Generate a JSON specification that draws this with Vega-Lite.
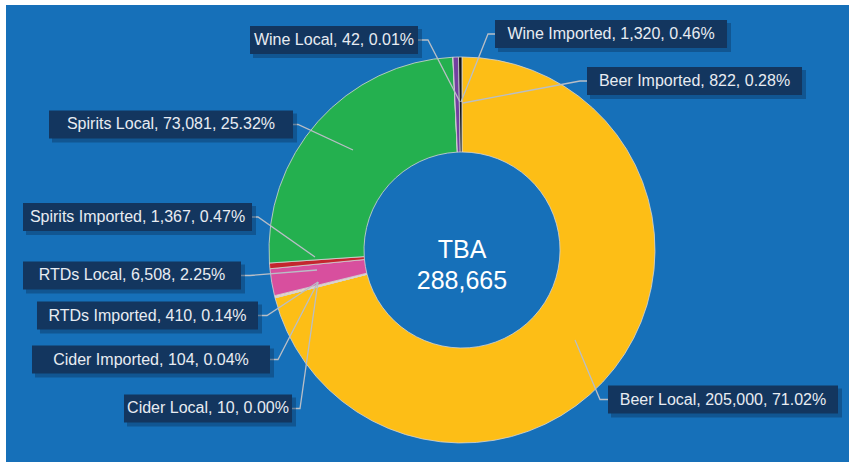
{
  "$schema": "https://vega.github.io/schema/vega-lite/v6.json",
  "width": 849,
  "height": 462,
  "autosize": {"type": "fit", "contains": "padding"},
  "padding": {"left": 6, "top": 5, "right": 0, "bottom": 0},
  "background": "#ffffff",
  "view": {"fill": "#1670B9", "stroke": null},
  "config": {"font": "Liberation Sans"},
  "datasets": {
    "slices": [
      {"category": "Beer Local", "value": 205000, "ord": 1},
      {"category": "Cider Local", "value": 10, "ord": 2},
      {"category": "Cider Imported", "value": 104, "ord": 3},
      {"category": "RTDs Imported", "value": 410, "ord": 4},
      {"category": "RTDs Local", "value": 6508, "ord": 5},
      {"category": "Spirits Imported", "value": 1367, "ord": 6},
      {"category": "Spirits Local", "value": 73081, "ord": 7},
      {"category": "Wine Local", "value": 42, "ord": 8},
      {"category": "Wine Imported", "value": 1320, "ord": 9},
      {"category": "Beer Imported", "value": 822, "ord": 10}
    ],
    "labels": [
      {"category": "Wine Local", "label": "Wine Local, 42, 0.01%", "bx1": -1.0984, "bx2": -0.228, "lx": -0.6632, "ly": 1.0881},
      {"category": "Wine Imported", "label": "Wine Imported, 1,320, 0.46%", "bx1": 0.171, "bx2": 1.3731, "lx": 0.772, "ly": 1.1192},
      {"category": "Beer Imported", "label": "Beer Imported, 822, 0.28%", "bx1": 0.6477, "bx2": 1.7617, "lx": 1.2047, "ly": 0.8756},
      {"category": "Spirits Local", "label": "Spirits Local, 73,081, 25.32%", "bx1": -2.1399, "bx2": -0.8756, "lx": -1.5078, "ly": 0.6503},
      {"category": "Spirits Imported", "label": "Spirits Imported, 1,367, 0.47%", "bx1": -2.2746, "bx2": -1.0881, "lx": -1.6813, "ly": 0.171},
      {"category": "RTDs Local", "label": "RTDs Local, 6,508, 2.25%", "bx1": -2.2746, "bx2": -1.1451, "lx": -1.7098, "ly": -0.1321},
      {"category": "RTDs Imported", "label": "RTDs Imported, 410, 0.14%", "bx1": -2.2021, "bx2": -1.057, "lx": -1.6295, "ly": -0.3394},
      {"category": "Cider Imported", "label": "Cider Imported, 104, 0.04%", "bx1": -2.228, "bx2": -0.9948, "lx": -1.6114, "ly": -0.5674},
      {"category": "Cider Local", "label": "Cider Local, 10, 0.00%", "bx1": -1.7513, "bx2": -0.8808, "lx": -1.316, "ly": -0.8212},
      {"category": "Beer Local", "label": "Beer Local, 205,000, 71.02%", "bx1": 0.7565, "bx2": 1.9482, "lx": 1.3523, "ly": -0.7746}
    ],
    "leaders": [
      {"category": "Wine Local", "seq": 1, "u": -0.228, "v": 1.0881},
      {"category": "Wine Local", "seq": 2, "u": -0.1762, "v": 1.0881},
      {"category": "Wine Local", "seq": 3, "u": -0.0104, "v": 0.7668},
      {"category": "Wine Imported", "seq": 1, "u": 0.171, "v": 1.1192},
      {"category": "Wine Imported", "seq": 2, "u": 0.1347, "v": 1.1192},
      {"category": "Wine Imported", "seq": 3, "u": -0.0052, "v": 0.7668},
      {"category": "Beer Imported", "seq": 1, "u": 0.6477, "v": 0.8756},
      {"category": "Beer Imported", "seq": 2, "u": 0.6114, "v": 0.8756},
      {"category": "Beer Imported", "seq": 3, "u": 0.0052, "v": 0.7617},
      {"category": "Spirits Local", "seq": 1, "u": -0.8756, "v": 0.6503},
      {"category": "Spirits Local", "seq": 2, "u": -0.8497, "v": 0.6503},
      {"category": "Spirits Local", "seq": 3, "u": -0.5648, "v": 0.5181},
      {"category": "Spirits Imported", "seq": 1, "u": -1.0881, "v": 0.171},
      {"category": "Spirits Imported", "seq": 2, "u": -1.057, "v": 0.171},
      {"category": "Spirits Imported", "seq": 3, "u": -0.7617, "v": -0.0363},
      {"category": "RTDs Local", "seq": 1, "u": -1.1451, "v": -0.1321},
      {"category": "RTDs Local", "seq": 2, "u": -1.0984, "v": -0.1321},
      {"category": "RTDs Local", "seq": 3, "u": -0.7513, "v": -0.1036},
      {"category": "RTDs Imported", "seq": 1, "u": -1.057, "v": -0.3394},
      {"category": "RTDs Imported", "seq": 2, "u": -1.0104, "v": -0.3394},
      {"category": "RTDs Imported", "seq": 3, "u": -0.7461, "v": -0.1658},
      {"category": "Cider Imported", "seq": 1, "u": -0.9948, "v": -0.5674},
      {"category": "Cider Imported", "seq": 2, "u": -0.9534, "v": -0.5674},
      {"category": "Cider Imported", "seq": 3, "u": -0.7461, "v": -0.1658},
      {"category": "Cider Local", "seq": 1, "u": -0.8808, "v": -0.8212},
      {"category": "Cider Local", "seq": 2, "u": -0.8394, "v": -0.8212},
      {"category": "Cider Local", "seq": 3, "u": -0.7461, "v": -0.1658},
      {"category": "Beer Local", "seq": 1, "u": 0.7565, "v": -0.7746},
      {"category": "Beer Local", "seq": 2, "u": 0.715, "v": -0.7746},
      {"category": "Beer Local", "seq": 3, "u": 0.5855, "v": -0.4663}
    ]
  },
  "layer": [
    {
      "data": {"name": "slices"},
      "mark": {"type": "arc", "innerRadius": 98, "outerRadius": 193, "stroke": "#d4d4d4", "strokeWidth": 0.8},
      "encoding": {
        "theta": {"field": "value", "type": "quantitative", "stack": true},
        "order": {"field": "ord", "type": "quantitative"},
        "color": {
          "field": "category", "type": "nominal", "legend": null,
          "scale": {
            "domain": ["Beer Local", "Cider Local", "Cider Imported", "RTDs Imported", "RTDs Local", "Spirits Imported", "Spirits Local", "Wine Local", "Wine Imported", "Beer Imported"],
            "range": ["#FDBE16", "#F26B21", "#F7A541", "#F6D7B8", "#D84F9E", "#C4262E", "#24B04F", "#9B59B6", "#7340A0", "#151515"]
          }
        },
        "x": {"datum": 0, "type": "quantitative", "scale": {"domain": [-2.3627, 2.0052], "nice": false, "zero": false}, "axis": null},
        "y": {"datum": 0, "type": "quantitative", "scale": {"domain": [-1.0984, 1.2694], "nice": false, "zero": false}, "axis": null}
      }
    },
    {
      "data": {"name": "leaders"},
      "mark": {"type": "line", "color": "#B9BEC6", "strokeWidth": 1.3},
      "encoding": {
        "x": {"field": "u", "type": "quantitative", "scale": {"domain": [-2.3627, 2.0052], "nice": false, "zero": false}, "axis": null},
        "y": {"field": "v", "type": "quantitative", "scale": {"domain": [-1.0984, 1.2694], "nice": false, "zero": false}, "axis": null},
        "detail": {"field": "category"},
        "order": {"field": "seq", "type": "quantitative"}
      }
    },
    {
      "data": {"name": "labels"},
      "mark": {"type": "rect", "fill": "#0B3763", "opacity": 0.45, "xOffset": 3, "x2Offset": 4, "yOffset": -11, "y2Offset": 18},
      "encoding": {
        "x": {"field": "bx1", "type": "quantitative", "scale": {"domain": [-2.3627, 2.0052], "nice": false, "zero": false}, "axis": null},
        "x2": {"field": "bx2"},
        "y": {"field": "ly", "type": "quantitative", "scale": {"domain": [-1.0984, 1.2694], "nice": false, "zero": false}, "axis": null},
        "y2": {"field": "ly"}
      }
    },
    {
      "data": {"name": "labels"},
      "mark": {"type": "rect", "fill": "#13365F", "yOffset": -14, "y2Offset": 14},
      "encoding": {
        "x": {"field": "bx1", "type": "quantitative", "scale": {"domain": [-2.3627, 2.0052], "nice": false, "zero": false}, "axis": null},
        "x2": {"field": "bx2"},
        "y": {"field": "ly", "type": "quantitative", "scale": {"domain": [-1.0984, 1.2694], "nice": false, "zero": false}, "axis": null},
        "y2": {"field": "ly"}
      }
    },
    {
      "data": {"name": "labels"},
      "mark": {"type": "text", "color": "#E8ECF2", "fontSize": 16, "align": "center", "baseline": "middle"},
      "encoding": {
        "x": {"field": "lx", "type": "quantitative", "scale": {"domain": [-2.3627, 2.0052], "nice": false, "zero": false}, "axis": null},
        "y": {"field": "ly", "type": "quantitative", "scale": {"domain": [-1.0984, 1.2694], "nice": false, "zero": false}, "axis": null},
        "text": {"field": "label"}
      }
    },
    {
      "data": {"values": [{"title": "TBA"}]},
      "mark": {"type": "text", "color": "#FFFFFF", "fontSize": 25, "align": "center", "baseline": "middle", "lineHeight": 31},
      "encoding": {
        "x": {"datum": 0, "type": "quantitative", "scale": {"domain": [-2.3627, 2.0052], "nice": false, "zero": false}, "axis": null},
        "y": {"datum": 0, "type": "quantitative", "scale": {"domain": [-1.0984, 1.2694], "nice": false, "zero": false}, "axis": null},
        "text": {"value": ["TBA", "288,665"]}
      }
    }
  ]
}
